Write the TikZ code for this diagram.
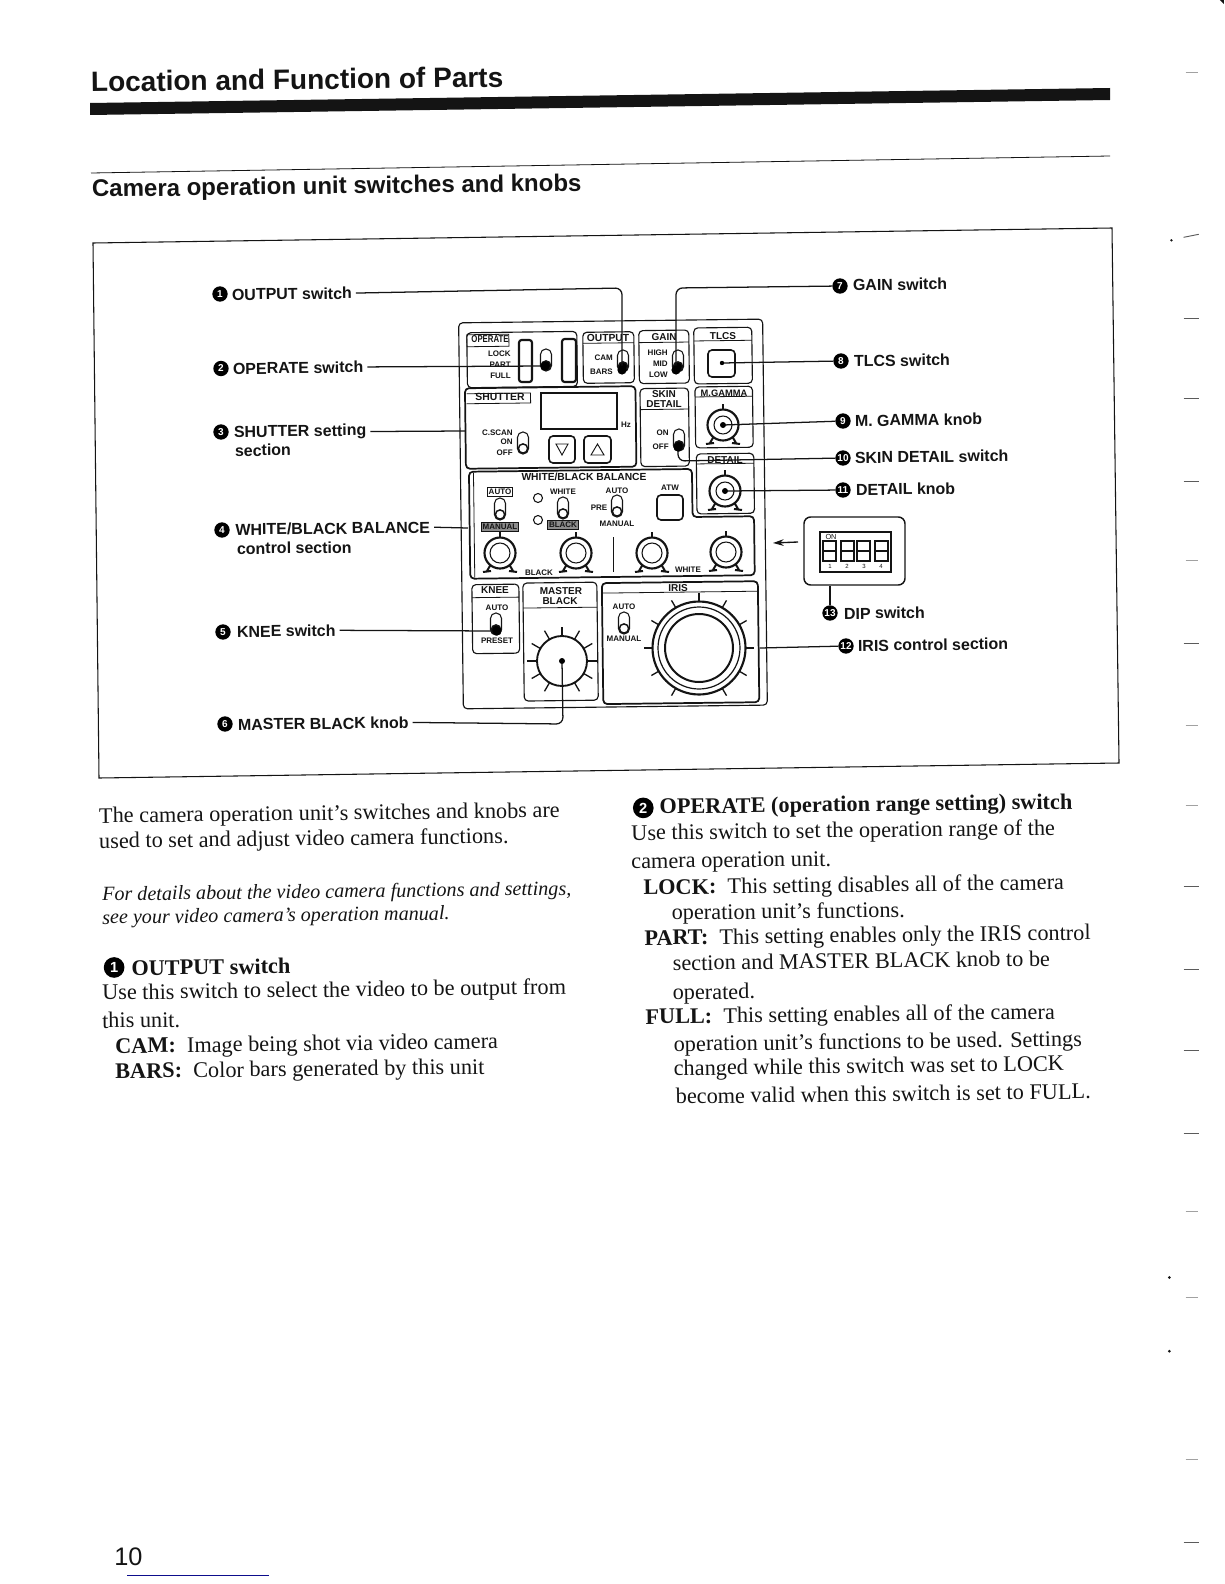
\documentclass[tikz,border=0pt]{standalone}
\usepackage{fontspec}
\setmainfont{Liberation Serif}
\newfontfamily\lsans{Liberation Sans}
\usetikzlibrary{arrows.meta}
\newcounter{pc}
\definecolor{ink}{gray}{0.08}
\definecolor{pageblue}{rgb}{0.05,0.05,0.55}
\tikzset{
 box/.style={draw=ink,line width=.85pt,rounded corners=3pt},
 thin rule/.style={draw=ink,line width=.6pt},
 lead/.style={draw=ink,line width=.95pt,rounded corners=5pt},
 lab/.style={anchor=base west,inner sep=0pt,outer sep=3pt,xshift=-3pt,yshift=-1pt,text=ink,rotate=.7,font=\lsans\bfseries\fontsize{12}{14}\selectfont},
 body/.style={anchor=base west,inner sep=0pt,text=ink,rotate=.7,font=\fontsize{16.7}{20}\selectfont},
 bodyb/.style={body,font=\bfseries\fontsize{16.7}{20}\selectfont},
 ital/.style={body,font=\itshape\fontsize{15.1}{18}\selectfont},
 numdot/.style={circle,fill=black,text=white,inner sep=0pt,minimum size=11.5pt,font=\lsans\bfseries\fontsize{7.5}{8}\selectfont},
 numbig/.style={numdot,minimum size=15.5pt,font=\lsans\bfseries\fontsize{11}{11}\selectfont},
 pt/.style={inner sep=0pt,text=ink,font=\lsans\bfseries\fontsize{6}{7}\selectfont},
 pm/.style={inner sep=0pt,text=ink,font=\lsans\bfseries\fontsize{7.5}{8.5}\selectfont},
 boxed/.style={pt,draw=ink,line width=.6pt,inner sep=1pt},
 dark/.style={boxed,fill=black!45},
}
\newcommand{\ptxt}[4][pt]{\stepcounter{pc}\node[#1,#4] (p\thepc) at (#2) {#3};}
\newcommand{\togg}[3]{\begin{scope}[shift={(#1,#2)}]
 \draw[draw=ink,line width=.8pt,rounded corners=4pt] (-5.5,-11) rectangle (5.5,11);
 \draw[draw=ink,fill=#3,line width=1.1pt] (0,5.5) circle (4.6);
 \end{scope}}
\newcommand{\knobk}[3]{\begin{scope}[shift={(#1,#2)}]
 \draw[ink,line width=1.8pt] (0,-15) -- (0,-21);
 \draw[ink,line width=1.5pt] (-9,11) -- (-13,18) (-17,19) -- (-9,18);
 \draw[ink,line width=1.5pt] (9,11) -- (13,18) (17,19) -- (9,18);
 \draw[ink,fill=white,line width=1.6pt] (0,0) circle (15.5);
 \draw[ink,line width=.8pt] (0,0) circle (#3);
 \end{scope}}
\begin{document}
\begin{tikzpicture}[x=.75pt,y=-.75pt]
\useasboundingbox (0,0) rectangle (1224,1584);
\fill[white] (0,0) rectangle (1224,1584);
% rules and frame
\fill[ink] (90,103) -- (1110,88) -- (1110,100) -- (90,115) -- cycle;
\draw[thin rule] (91,173) -- (1110,156);
\draw[ink,line width=.8pt] (93,243) -- (1112,228) -- (1119,763) -- (99,778) -- cycle;
\draw[pageblue,line width=.75pt] (127,1575) -- (269,1575);
% panel boxes
\begin{scope}[rotate around={.7:(610,515)}]
\draw[box] (461,321) rectangle (765,707);
\draw[box] (469,331) rectangle (579,386);
\draw[box] (585,332) rectangle (636,383);
\draw[box] (641,331) rectangle (691,384);
\draw[box] (696,329) rectangle (754,385);
\draw[box,line width=1.3pt] (466.5,386.5) rectangle (637,467);
\draw[box] (641.5,389) rectangle (690,467);
\draw[box] (696.5,388) rectangle (754,449);
\draw[box] (697,455) rectangle (754.5,515);
\draw[box,line width=1.3pt] (469.5,470) -- (692.5,470) -- (692.5,518) -- (754,518) -- (754,577) -- (469.5,577) -- cycle;
\draw[box] (471,583) rectangle (518,652);
\draw[box] (522,582) rectangle (596,700);
\draw[box,line width=1.3pt] (601,583) rectangle (757,704);
\draw[thin rule] (469,345) -- (511,345) -- (511,333) -- (469,333) -- cycle;
\draw[thin rule] (585,343) -- (636,343) (641,343) -- (691,343) (696,342) -- (754,342);
\draw[thin rule] (641.5,410) -- (690,410) (696.5,398) -- (754,398) (697,465) -- (754.5,465);
\draw[thin rule] (468,392) -- (532,392) -- (532,402) -- (468,402);
\draw[thin rule] (471,596) -- (518,596) (522,607) -- (596,607) (601,593) -- (757,593);
\draw[thin rule] (474,471) -- (474,576);
\end{scope}
% OPERATE
\ptxt[pm]{490,339}{OPERATE}{xscale=.78}
\ptxt{511,354}{LOCK}{anchor=east}
\ptxt{511,365}{PART}{anchor=east}
\ptxt{511,376}{FULL}{anchor=east}
\draw[ink,line width=1.6pt,rounded corners=2pt] (519,340) rectangle (532,382);
\draw[ink,line width=1.6pt,rounded corners=2pt] (562,339) rectangle (576,382);
\togg{546}{360}{black}
% OUTPUT
\ptxt{608,338}{OUTPUT}{font=\lsans\bfseries\fontsize{7.7}{9}\selectfont}
\ptxt{613,358}{CAM}{anchor=east}
\ptxt{613,372}{BARS}{anchor=east}
\togg{623}{361}{black}
% GAIN
\ptxt[pm]{664,337}{GAIN}{}
\ptxt{668,353}{HIGH}{anchor=east}
\ptxt{668,364}{MID}{anchor=east}
\ptxt{668,375}{LOW}{anchor=east}
\togg{678}{361}{black}
% TLCS
\ptxt[pm]{723,336}{TLCS}{}
\draw[ink,line width=1.2pt,rounded corners=3pt] (708,350) rectangle (735,377);
% SHUTTER
\ptxt[pm]{500,397}{SHUTTER}{font=\lsans\bfseries\fontsize{7.8}{9}\selectfont}
\draw[ink,line width=1.4pt] (541,393) rectangle (617,429);
\ptxt{626,425}{Hz}{}
\ptxt{513,433}{C.SCAN}{anchor=east}
\ptxt{513,442}{ON}{anchor=east}
\ptxt{513,453}{OFF}{anchor=east}
\togg{523}{443}{white}
\draw[ink,line width=1.2pt,rounded corners=3pt] (549,436) rectangle (575,463);
\draw[ink,line width=1.2pt,rounded corners=3pt] (584,436) rectangle (611,463);
\draw[ink,line width=.7pt] (556,444) -- (568,444) -- (562,455) -- cycle;
\draw[ink,line width=.7pt] (591,455) -- (604,455) -- (597.5,444) -- cycle;
% SKIN DETAIL
\ptxt[pm]{664,394}{SKIN}{}
\ptxt[pm]{664,404}{DETAIL}{}
\ptxt{669,433}{ON}{anchor=east}
\ptxt{669,447}{OFF}{anchor=east}
\togg{679}{440}{black}
% M.GAMMA / DETAIL
\ptxt[pm]{724,393.5}{M.GAMMA}{font=\lsans\bfseries\fontsize{7}{8}\selectfont}
\knobk{723}{425}{9}
\fill[black] (723,425) circle (3);
\ptxt[pm]{725,460}{DETAIL}{}
\knobk{725}{491}{9}
\fill[black] (725,491) circle (3);
% WHITE/BLACK BALANCE
\ptxt[pm]{584,477}{WHITE/BLACK BALANCE}{font=\lsans\bfseries\fontsize{7.7}{9}\selectfont}
\ptxt[boxed]{500,492}{AUTO}{}
\ptxt[dark]{500,527}{MANUAL}{}
\togg{500}{509}{white}
\draw[ink,line width=.8pt] (538,498) circle (4.5) (538,520) circle (4.5);
\ptxt{563,492}{WHITE}{}
\togg{563}{508}{white}
\ptxt[dark]{563,525}{BLACK}{}
\ptxt{617,491}{AUTO}{}
\ptxt{599,508}{PRE}{}
\togg{617}{506}{white}
\ptxt{617,524}{MANUAL}{}
\ptxt{670,488}{ATW}{}
\draw[ink,line width=1.2pt,rounded corners=3pt] (657,495) rectangle (683,520);
\knobk{500}{553}{10}
\knobk{576}{553}{10}
\knobk{652}{553}{10}
\knobk{726}{552}{10}
\ptxt{539,573}{BLACK}{}
\ptxt{688,570}{WHITE}{}
\draw[ink,line width=.7pt] (613,537) -- (613,572);
% KNEE
\ptxt[pm]{495,590}{KNEE}{}
\ptxt{497,608}{AUTO}{}
\togg{496}{624}{black}
\ptxt{497,641}{PRESET}{}
% MASTER BLACK
\ptxt[pm]{561,591}{MASTER}{}
\ptxt[pm]{560,601}{BLACK}{}
\begin{scope}[shift={(562,661)}]
\foreach \a in {0,30,60,120,150,180,210,240,300,330}
 \draw[ink,line width=1pt] (\a:25) -- (\a:35);
\draw[ink,line width=2pt] (270:25) -- (270:34);
\draw[ink,line width=1.4pt] (0,0) circle (25);
\fill[black] (0,0) circle (3);
\end{scope}
% IRIS
\ptxt[pm]{678,588}{IRIS}{}
\ptxt{624,607}{AUTO}{}
\togg{624}{623}{white}
\ptxt{624,639}{MANUAL}{}
\begin{scope}[shift={(699,648)}]
\foreach \a in {0,30,60,120,150,180,210,240,270,300,330}
 \draw[ink,line width=1pt] (\a:46) -- (\a:55);
\draw[ink,line width=1.6pt] (0,0) circle (46.5);
\draw[ink,line width=.9pt] (0,0) circle (41);
\draw[ink,line width=1.5pt] (0,0) circle (34);
\end{scope}
% DIP switch
\draw[ink,line width=1.1pt,rounded corners=5pt] (804,517) rectangle (905,585);
\fill[ink] (819,531) rectangle (892,573);
\fill[white] (821,533) rectangle (890,571);
\foreach \x in {823,841,857,875}{
 \draw[ink,line width=1pt] (\x,541) rectangle (\x+13,561);
 \draw[ink,line width=1pt] (\x,551) -- (\x+13,551);}
\ptxt{831,537}{ON}{font=\lsans\fontsize{5.5}{6}\selectfont}
\ptxt{830,566}{1}{font=\lsans\fontsize{4.5}{5}\selectfont}
\ptxt{847,566}{2}{font=\lsans\fontsize{4.5}{5}\selectfont}
\ptxt{864,566}{3}{font=\lsans\fontsize{4.5}{5}\selectfont}
\ptxt{881,566}{4}{font=\lsans\fontsize{4.5}{5}\selectfont}
% anchors of connectors
\coordinate (d1) at (622,370); \coordinate (d1a) at (622,288);
\coordinate (d2) at (545,366); \coordinate (d3) at (465,431);
\coordinate (d4) at (468,528); \coordinate (d5) at (497,631);
\coordinate (d6) at (562,661); \coordinate (d6a) at (563,724);
\coordinate (d7) at (676,370); \coordinate (d7a) at (676,288);
\coordinate (d8) at (722,363); \coordinate (d9) at (723,425);
\coordinate (d10) at (678,447); \coordinate (d10a) at (678,461);
\coordinate (d11) at (725,491); \coordinate (d12) at (760,648);
\coordinate (d13) at (830,586); \coordinate (d14) at (798,542); \coordinate (d14a) at (773,543);
% labels
\node[numdot] (n1) at (220,294) {1};
\node[lab] (l1) at (232,299) {OUTPUT switch};
\node[numdot] (n2) at (221,368.5) {2};
\node[lab] (l2) at (233,373) {OPERATE switch};
\node[numdot] (n3) at (221,432) {3};
\node[lab] (l3) at (234,436) {SHUTTER setting};
\node[lab] (l3b) at (235,455) {section};
\node[numdot] (n4) at (222,530) {4};
\node[lab] (l4) at (235.5,534) {WHITE/BLACK BALANCE};
\node[lab] (l4b) at (237,553) {control section};
\node[numdot] (n5) at (223,632) {5};
\node[lab] (l5) at (237,636) {KNEE switch};
\node[numdot] (n6) at (225,724) {6};
\node[lab] (l6) at (238,729) {MASTER BLACK knob};
\node[numdot] (n7) at (840,286) {7};
\node[lab] (l7) at (853,289.5) {GAIN switch};
\node[numdot] (n8) at (841,361) {8};
\node[lab] (l8) at (854,365.5) {TLCS switch};
\node[numdot] (n9) at (843,421) {9};
\node[lab] (l9) at (855,425) {M. GAMMA knob};
\node[numdot] (n10) at (843,458) {10};
\node[lab] (l10) at (855,462) {SKIN DETAIL switch};
\node[numdot] (n11) at (843,490) {11};
\node[lab] (l11) at (856,494) {DETAIL knob};
\node[numdot] (n12) at (846,646) {12};
\node[lab] (l12) at (858,650) {IRIS control section};
\node[numdot] (n13) at (830,613) {13};
\node[lab] (l13) at (844,618) {DIP switch};
% connectors
\draw[lead] (l1.east) -- (d1a) -- (d1);
\draw[lead] (l2.east) -- (d2);
\draw[lead] (l3.east) -- (d3);
\draw[lead] (l4.east) -- (d4);
\draw[lead] (l5.east) -- (d5);
\draw[lead] (l6.east) -- (d6a) -- (d6);
\draw[lead] (n7) -- (d7a) -- (d7);
\draw[lead] (n8) -- (d8);
\draw[lead] (n9) -- (d9);
\draw[lead] (n10) -- (d10a) -- (d10);
\draw[lead] (n11) -- (d11);
\draw[lead] (n12) -- (d12);
\draw[lead] (n13) -- (d13);
\draw[ink,line width=1pt,-{Stealth[length=8pt,width=5pt]}] (d14) -- (d14a);
\foreach \p in {d6,d8,d9,d11} \fill[black] (\p) circle (2.2);
\foreach \p in {d2,d1,d7,d5,d10} \fill[black] (\p) circle (4.6);
% page text
\begin{scope}[x=.7574pt,y=-.7574pt]
\node[anchor=base west,inner sep=0pt,text=ink,rotate=.7,font=\lsans\bfseries\fontsize{21}{25}\selectfont] (title) at (90,91) {Location and Function of Parts};
\node[anchor=base west,inner sep=0pt,text=ink,rotate=.7,font=\lsans\bfseries\fontsize{18}{22}\selectfont] (subtitle) at (91,195) {Camera operation unit switches and knobs};
\node[body] (a1) at (98,815) {The camera operation unit's switches and knobs are};
\node[body] (a2) at (98,840) {used to set and adjust video camera functions.};
\node[ital] (a3) at (101,892) {For details about the video camera functions and settings,};
\node[ital] (a4) at (101,915) {see your video camera's operation manual.};
\node[numbig] (h1) at (113,958) {1};
\node[bodyb] (a5) at (130,966) {OUTPUT switch};
\node[body] (a6) at (101,990) {Use this switch to select the video to be output from};
\node[body] (a7) at (101,1018) {this unit.};
\node[body] (a8) at (114,1043) {\textbf{CAM:}\ \ Image being shot via video camera};
\node[body] (a9) at (114,1068) {\textbf{BARS:}\ \ Color bars generated by this unit};
\node[numbig] (h2) at (637,800) {2};
\node[bodyb] (b1) at (653,806) {OPERATE (operation range setting) switch};
\node[body] (b2) at (625,832) {Use this switch to set the operation range of the};
\node[body] (b3) at (625,860) {camera operation unit.};
\node[body] (b4) at (637,886) {\textbf{LOCK:}\ \ This setting disables all of the camera};
\node[body] (b5) at (665,911) {operation unit's functions.};
\node[body] (b6) at (638,936) {\textbf{PART:}\ \ This setting enables only the IRIS control};
\node[body] (b7) at (666,961) {section and MASTER BLACK knob to be};
\node[body] (b8) at (666,990) {operated.};
\node[body] (b9) at (639,1014) {\textbf{FULL:}\ \ This setting enables all of the camera};
\node[body] (b10) at (667,1041) {operation unit's functions to be used. Settings};
\node[body] (b11) at (667,1065) {changed while this switch was set to LOCK};
\node[body] (b12) at (669,1093) {become valid when this switch is set to FULL.};
\node[anchor=base west,inner sep=0pt,text=ink,font=\lsans\fontsize{19}{22}\selectfont] (pg) at (113,1550) {10};
% scan marks
\foreach \y in {315,395,477,637,878,960,1040,1122,1527}
 \draw[ink!70,line width=.7pt] (1172,\y) -- (1187,\y);
\foreach \y in {72,555,718,798,1200,1285,1445}
 \draw[ink!40,line width=.6pt] (1174,\y) -- (1186,\y);
\draw[ink!70,line width=.7pt] (1172,235) -- (1187,232);
\fill[ink] (1160,238) circle (1.3) (1158,1265) circle (1.5) (1158,1338) circle (1.5);
\fill[ink] (1208,0) -- (1212,0) -- (1212,4) -- cycle;
\end{scope}
\end{tikzpicture}
\end{document}
